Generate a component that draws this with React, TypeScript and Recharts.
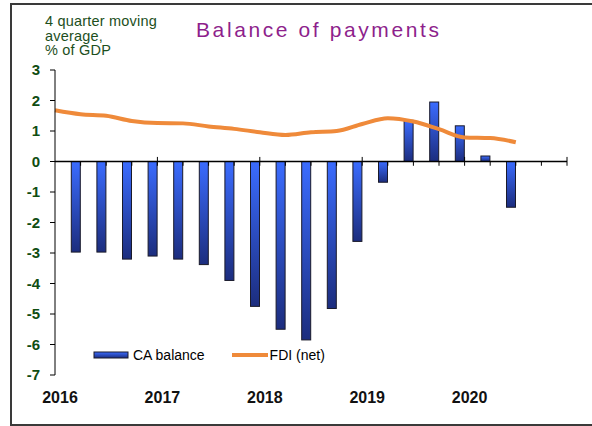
import { Bar, ComposedChart, Line, ReferenceLine, XAxis, YAxis } from "recharts";

const YEARS = ["2016", "2017", "2018", "2019", "2020"];
const YEAR_TICKS = [0, 4, 8, 12, 16];
const Y_TICKS = [-7, -6, -5, -4, -3, -2, -1, 0, 1, 2, 3];

// quarter index 0..18 (0 = start of 2016)
const QUARTERS = [0, 1, 2, 3, 4, 5, 6, 7, 8, 9, 10, 11, 12, 13, 14, 15, 16, 17, 18];
const CA_BALANCE = [
  null, -2.97, -2.97, -3.2, -3.1, -3.2, -3.38, -3.9, -4.75, -5.5, -5.85, -4.82, -2.62, -0.68, 1.35,
  1.95, 1.17, 0.18, -1.5,
];
const FDI_NET = [
  1.68, 1.55, 1.5, 1.33, 1.26, 1.25, 1.15, 1.07, 0.96, 0.87, 0.96, 1.0, 1.23, 1.42, 1.31, 1.06, 0.79,
  0.77, 0.63,
];

const data = QUARTERS.map((q, i) => ({ q, ca: CA_BALANCE[i], fdi: FDI_NET[i] }));
const AXIS_TICKS = Array.from({ length: 20 }, (_, i) => i + 1);

const FONT = "Arial, 'Liberation Sans', sans-serif";
const GREEN = "#0f4d12";
const ORANGE = "#ef8a3a";

const CABar = (p: any) => {
  const { x, y, width, height } = p;
  if (height == null || width == null) return null;
  const top = Math.min(y, y + height);
  return (
    <rect
      x={x - width / 2}
      y={top}
      width={width}
      height={Math.abs(height)}
      fill="url(#caGrad)"
      stroke="#1a1a2a"
      strokeWidth={1}
    />
  );
};

const LegendBox = () => (
  <div
    style={{
      position: "absolute",
      left: 93,
      top: 347,
      display: "flex",
      alignItems: "center",
      fontFamily: FONT,
      fontSize: 14,
      color: "#000",
    }}
  >
    <svg width={36} height={10} style={{ marginRight: 4 }}>
      <defs>
        <linearGradient id="caGradL" x1="0" y1="0" x2="0" y2="1">
          <stop offset="0%" stopColor="#3b6cff" />
          <stop offset="100%" stopColor="#1c2d7e" />
        </linearGradient>
      </defs>
      <rect x={1} y={2} width={34} height={6} fill="url(#caGradL)" stroke="#1a1a2a" />
    </svg>
    <span style={{ marginRight: 26 }}>CA balance</span>
    <svg width={38} height={10} style={{ marginRight: 1 }}>
      <line x1={1} y1={5} x2={37} y2={5} stroke={ORANGE} strokeWidth={4} />
    </svg>
    <span>FDI (net)</span>
  </div>
);

export default function App() {
  return (
    <div style={{ position: "absolute", left: 0, top: 0, width: 592, height: 426, background: "#fff", overflow: "hidden" }}>
      <div
        style={{
          position: "absolute",
          left: 10,
          top: 3,
          width: 600,
          height: 419,
          borderTop: "2px solid #3a3a3a",
          borderLeft: "2px solid #3a3a3a",
          borderBottom: "2px solid #3a3a3a",
        }}
      />
      <div
        style={{
          position: "absolute",
          left: 196,
          top: 18,
          fontFamily: FONT,
          fontSize: 21,
          letterSpacing: 2.6,
          color: "#8e1f8c",
          whiteSpace: "nowrap",
        }}
      >
        Balance of payments
      </div>
      <div
        style={{
          position: "absolute",
          left: 45,
          top: 14,
          fontFamily: FONT,
          fontSize: 14.5,
          lineHeight: "14.5px",
          color: "#1d4f1d",
          letterSpacing: 0.2,
          whiteSpace: "nowrap",
        }}
      >
        4 quarter moving
        <br />
        average,
        <br />% of GDP
      </div>
      <ComposedChart
        width={592}
        height={426}
        data={data}
        margin={{ top: 70, right: 25, bottom: 21, left: 5 }}
        style={{ position: "absolute", left: 0, top: 0 }}
      >
        <defs>
          <linearGradient id="caGrad" x1="0" y1="0" x2="0" y2="1">
            <stop offset="0%" stopColor="#3b6cff" />
            <stop offset="100%" stopColor="#1c2d7e" />
          </linearGradient>
        </defs>
        <XAxis
          dataKey="q"
          type="number"
          domain={[0, 20]}
          ticks={YEAR_TICKS}
          tickFormatter={(v: number) => YEARS[YEAR_TICKS.indexOf(v)] ?? ""}
          axisLine={false}
          tickLine={false}
          tickSize={0}
          tickMargin={17}
          height={30}
          tick={{ fill: "#111", fontSize: 16, fontWeight: "bold", fontFamily: FONT, dx: 5 }}
          interval={0}
        />
        <YAxis
          type="number"
          domain={[-7, 3]}
          ticks={Y_TICKS}
          interval={0}
          width={50}
          axisLine={{ stroke: "#000", strokeWidth: 1 }}
          tickLine={{ stroke: "#000" }}
          tickSize={5}
          tickMargin={10}
          tick={{ fill: GREEN, fontSize: 15, fontWeight: "bold", fontFamily: FONT }}
        />
        <ReferenceLine y={0} stroke="#000" strokeWidth={1.5} />
        {AXIS_TICKS.map((t) => (
          <ReferenceLine
            key={t}
            segment={[
              { x: t, y: t % 4 === 0 ? 0.15 : 0 },
              { x: t, y: -0.14 },
            ]}
            stroke="#000"
            strokeWidth={1}
          />
        ))}
        <Bar dataKey="ca" barSize={9} shape={CABar} isAnimationActive={false} />
        <Line
          dataKey="fdi"
          type="monotone"
          stroke={ORANGE}
          strokeWidth={4}
          dot={false}
          activeDot={false}
          isAnimationActive={false}
        />
      </ComposedChart>
      <LegendBox />
    </div>
  );
}
